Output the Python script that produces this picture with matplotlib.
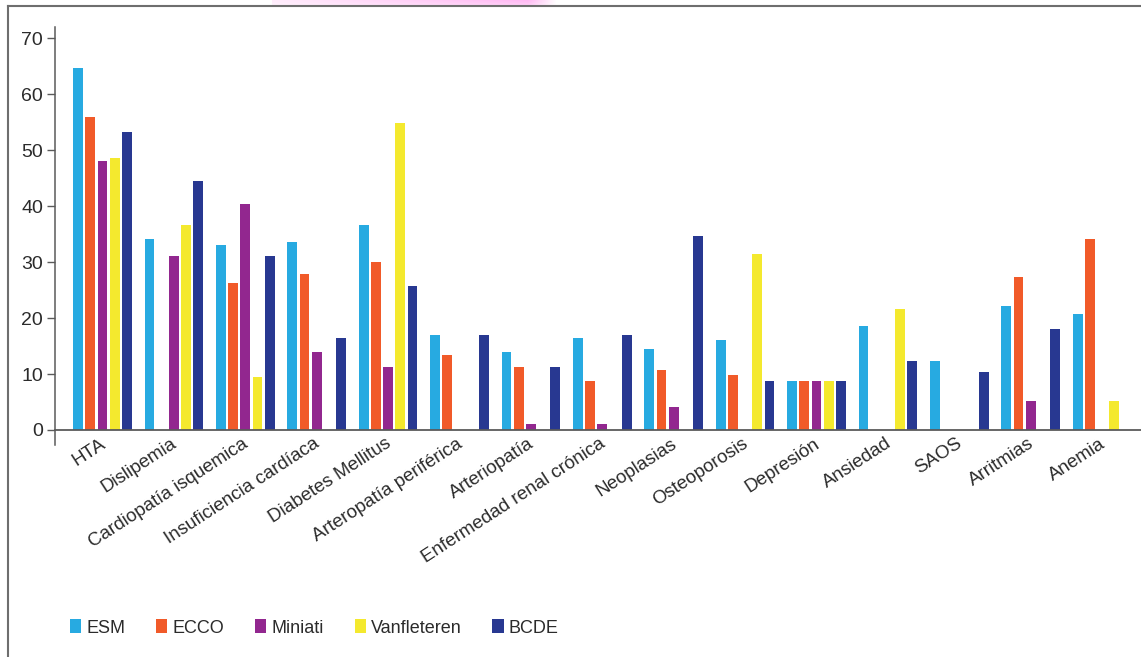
import numpy as np
import matplotlib
matplotlib.use("Agg")
import matplotlib.pyplot as plt
from matplotlib.lines import Line2D
from matplotlib.patches import Patch
from matplotlib.transforms import ScaledTranslation

plt.rcParams["font.family"] = ["Liberation Sans", "DejaVu Sans"]

categories = [
    "HTA", "Dislipemia", "Cardiopatía isquemica", "Insuficiencia cardíaca",
    "Diabetes Mellitus", "Arteropatía periférica", "Arteriopatía",
    "Enfermedad renal crónica", "Neoplasias", "Osteoporosis", "Depresión",
    "Ansiedad", "SAOS", "Arritmias", "Anemia",
]
nan = np.nan
esm = [64.6, 34.1, 33.1, 33.6, 36.7, 17.0, 13.9, 16.5, 14.4, 16.0, 8.8, 18.6, 12.4, 22.2, 20.7]
ecco = [55.9, nan, 26.3, 27.9, 30.0, 13.4, 11.3, 8.8, 10.8, 9.8, 8.8, nan, nan, 27.4, 34.1]
miniati = [48.1, 31.0, 40.3, 13.9, 11.3, nan, 1.0, 1.0, 4.1, nan, 8.8, nan, nan, 5.1, nan]
vanfleteren = [48.6, 36.7, 9.4, nan, 54.8, nan, nan, nan, nan, 31.5, 8.8, 21.7, nan, nan, 5.1]
bcde = [53.3, 44.5, 31.0, 16.5, 25.8, 17.0, 11.3, 17.0, 34.6, 8.8, 8.8, 12.4, 10.3, 18.0, nan]

series_names = ["ESM", "ECCO", "Miniati", "Vanfleteren", "BCDE"]
series_values = [esm, ecco, miniati, vanfleteren, bcde]
series_colors = ["#27AAE1", "#F15A29", "#92278F", "#F4E92E", "#283891"]
yticks = [0, 10, 20, 30, 40, 50, 60, 70]

W, H, DPI = 1141, 657, 100
fig = plt.figure(figsize=(W / DPI, H / DPI), dpi=DPI)
fig.patch.set_facecolor("white")

# soft pink smear along the top edge
haze = fig.add_axes([272 / W, 1 - 6 / H, 285 / W, 6 / H])
ramp = np.linspace(0.25, 1.0, 256)
edge = np.clip((1.0 - np.linspace(0, 1, 256)) * 10, 0, 1)
alpha = (ramp * edge)[None, :] * np.linspace(1.0, 0.7, 8)[:, None]
rgba = np.zeros((8, 256, 4))
rgba[..., 0] = 1.0
rgba[..., 1] = 0.70
rgba[..., 2] = 0.95
rgba[..., 3] = alpha
haze.imshow(rgba, aspect="auto", extent=[0, 1, 0, 1])
haze.set_axis_off()

# page frame: left and top rules
frame_c = "#6e6e6e"
fig.add_artist(Line2D([8 / W, 8 / W], [0, 1 - 6 / H], transform=fig.transFigure,
                      color=frame_c, lw=1.5))
fig.add_artist(Line2D([8 / W, 1], [1 - 6 / H, 1 - 6 / H], transform=fig.transFigure,
                      color=frame_c, lw=1.5))

ax = fig.add_axes([55 / W, (H - 445) / H, (W - 55) / W, (445 - 27) / H])
x = np.arange(len(categories))
bar_w = 0.137
step = 0.171
for k, (vals, col) in enumerate(zip(series_values, series_colors)):
    ax.bar(x + (k - 2) * step, vals, width=bar_w, color=col, linewidth=0)

ax.set_xlim(-0.665, 14.545)
ax.set_ylim(-2.68, 72.0)

spine_c = "#5a5a5a"
for side in ("top", "right"):
    ax.spines[side].set_visible(False)
ax.spines["bottom"].set_position(("data", 0))
ax.spines["bottom"].set_color(spine_c)
ax.spines["left"].set_color(spine_c)
ax.spines["bottom"].set_linewidth(1.3)
ax.spines["left"].set_linewidth(1.1)

ax.set_yticks(yticks)
ax.set_yticklabels([str(v) for v in yticks])
ax.tick_params(axis="y", direction="out", length=6, width=1.0, color=spine_c,
               pad=2.5, labelsize=14, labelcolor="#2b2b2b")

ax.set_xticks(x)
ax.set_xticklabels(categories)
ax.tick_params(axis="x", length=0, pad=11.5, labelsize=13.5, labelcolor="#2b2b2b")
shift = ScaledTranslation(4 / DPI, 0, fig.dpi_scale_trans)
for lab in ax.get_xticklabels():
    lab.set_rotation(33)
    lab.set_ha("right")
    lab.set_va("baseline")
    lab.set_rotation_mode("anchor")
    lab.set_transform(lab.get_transform() + shift)

handles = [Patch(facecolor=c, edgecolor="none") for c in series_colors]
fig.legend(handles, series_names, loc="center left",
           bbox_to_anchor=(70 / W, 1 - 628 / H), ncol=5, frameon=False,
           fontsize=13, handlelength=0.62, handleheight=0.8,
           handletextpad=0.27, columnspacing=1.72, borderpad=0,
           borderaxespad=0, labelcolor="#2b2b2b")

fig.savefig("out.png", dpi=DPI, facecolor="white")
